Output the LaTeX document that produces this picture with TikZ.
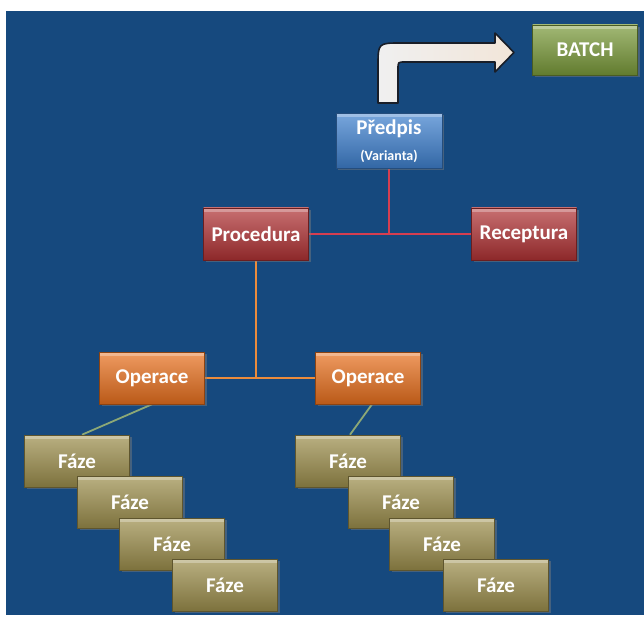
\documentclass[tikz,border=0pt]{standalone}
\usepackage{fontspec}
\setmainfont{Carlito}
\usetikzlibrary{shadows}
\pgfdeclarelayer{backdrop}
\pgfdeclarelayer{links}
\pgfsetlayers{backdrop,links,main}
\definecolor{bgblue}{RGB}{22,73,126}
\definecolor{cbatch}{RGB}{122,154,58}
\definecolor{cpredpis}{RGB}{62,128,206}
\definecolor{cred}{RGB}{176,50,52}
\definecolor{corange}{RGB}{232,112,30}
\definecolor{cfaze}{RGB}{156,142,76}
\definecolor{lred}{RGB}{214,62,80}
\definecolor{lorange}{RGB}{236,140,60}
\definecolor{lgreen}{RGB}{140,168,118}
\definecolor{arrowdark}{RGB}{25,30,40}
\tikzset{
  tile/.style={minimum width=105pt, minimum height=52pt, inner sep=0pt,
    text=white, font=\bfseries\fontsize{21}{24}\selectfont, align=center,
    top color=#1!70!white, middle color=#1, bottom color=#1!80!black,
    draw=#1!60!black, line width=0.6pt,
    drop shadow={opacity=0.45, shadow xshift=2pt, shadow yshift=-2pt},
    path picture={
      \fill[white, opacity=0.3]
        (path picture bounding box.north west) rectangle
        ([yshift=-4pt]path picture bounding box.north east);
    }},
  link/.style={line width=2.6pt, #1},
}
\begin{document}
\begin{tikzpicture}[x=1pt, y=-1pt]
  \useasboundingbox (0,0) rectangle (644,617);
  \begin{pgfonlayer}{backdrop}
    \fill[white] (0,0) rectangle (644,617);
    \fill[bgblue] (6,11) rectangle (644,615);
  \end{pgfonlayer}

  % bent arrow towards the batch
  \shade[left color=white!88!gray, right color=white!80!brown,
         draw=arrowdark, line width=1.6pt, line join=round]
    (378,103) -- (378,66) .. controls (378,43) .. (401,43) -- (495,43)
    -- (495,33) -- (514,52.5) -- (495,72) -- (495,62) -- (405,62)
    .. controls (398,62) .. (398,69) -- (398,103) -- cycle;

  % top level
  \node[tile=cbatch, minimum height=50pt] (batch) at (585,50) {BATCH};
  \node[tile=cpredpis, minimum width=106pt, minimum height=55pt] (predpis) at (389,141)
    {Předpis\\[2pt]{\fontsize{14}{15}\selectfont (Varianta)}};
  \node[tile=cred] (procedura) at (256,234) {Procedura};
  \node[tile=cred] (receptura) at (524,234) {Receptura};

  % operations
  \node[tile=corange] (op1) at (152,378) {Operace};
  \node[tile=corange] (op2) at (368,378) {Operace};

  % phase tiles, left branch
  \node[tile=cfaze] (fl1) at (77,461) {Fáze};
  \node[tile=cfaze] (fl2) at (130,502) {Fáze};
  \node[tile=cfaze] (fl3) at (172,544) {Fáze};
  \node[tile=cfaze] (fl4) at (225,585) {Fáze};
  % phase tiles, right branch
  \node[tile=cfaze] (fr1) at (348,461) {Fáze};
  \node[tile=cfaze] (fr2) at (401,502) {Fáze};
  \node[tile=cfaze] (fr3) at (442,544) {Fáze};
  \node[tile=cfaze] (fr4) at (496,585) {Fáze};

  % connecting lines, kept behind the tiles
  \begin{pgfonlayer}{links}
    \draw[link=lred] (predpis.south) -- (predpis.south |- procedura.east);
    \draw[link=lred] (procedura.east) -- (receptura.west);
    \draw[link=lorange] (procedura.south) -- (procedura.south |- op1.east);
    \draw[link=lorange] (op1.east) -- (op2.west);
    \draw[link=lgreen, line width=1.8pt] (op1.south) -- ([xshift=5pt]fl1.north);
    \draw[link=lgreen, line width=1.8pt] ([xshift=4pt]op2.south) -- ([xshift=2pt]fr1.north);
  \end{pgfonlayer}
\end{tikzpicture}
\end{document}
